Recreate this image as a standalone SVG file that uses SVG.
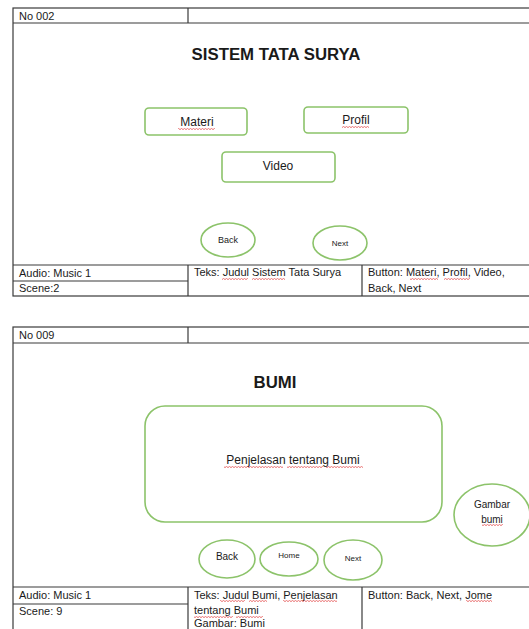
<svg xmlns="http://www.w3.org/2000/svg" width="529" height="629" viewBox="0 0 529 629">
<defs>
<style>
.frame{fill:none;stroke:#3a3a3a;stroke-width:1.2}
.btn{fill:#fff;stroke:#8cc36a;stroke-width:1.6}
.t{font-family:"Liberation Sans",Arial,sans-serif;fill:#1a1a1a}
.s11{font-size:11px}
.s12{font-size:12px}
.s10{font-size:10px}
.s9{font-size:9px}
.s8{font-size:8px}
.title{font-size:16.8px;font-weight:bold;text-anchor:middle}
.c{text-anchor:middle}
</style>
<pattern id="sq" width="3" height="2" patternUnits="userSpaceOnUse">
<path d="M0,1.6 L1.5,0.4 L3,1.6" stroke="#e03030" stroke-width="0.7" fill="none"/>
</pattern>
</defs>
<rect x="0" y="0" width="529" height="629" fill="#fff"/>

<g id="page1">
<g id="p1-table">
<rect class="frame" x="13" y="8" width="530" height="288"/>
<line class="frame" x1="13" y1="23" x2="529" y2="23"/>
<line class="frame" x1="188" y1="8" x2="188" y2="23"/>
<line class="frame" x1="13" y1="265" x2="529" y2="265"/>
<line class="frame" x1="13" y1="281" x2="188" y2="281"/>
<line class="frame" x1="188" y1="265" x2="188" y2="296"/>
<line class="frame" x1="362" y1="265" x2="362" y2="296"/>
<text class="t s11" x="19" y="20">No 002</text>
<text class="t s11" x="19" y="277">Audio: Music 1</text>
<text class="t s11" x="19" y="292">Scene:2</text>
<text class="t s11" x="194" y="276">Teks: Judul Sistem Tata Surya</text>
<text class="t s11" x="368" y="276">Button: Materi, Profil, Video,</text>
<text class="t s11" x="368" y="292">Back, Next</text>
</g>
<text class="t title" x="276" y="60">SISTEM TATA SURYA</text>
<g id="p1-materi">
<rect class="btn" x="145" y="108" width="102" height="27" rx="4"/>
<text class="t s12 c" x="197" y="126">Materi</text>
</g>
<g id="p1-profil">
<rect class="btn" x="304" y="107" width="104" height="26" rx="4"/>
<text class="t s12 c" x="356" y="124">Profil</text>
</g>
<g id="p1-video">
<rect class="btn" x="222" y="152" width="113" height="30" rx="4"/>
<text class="t s12 c" x="278" y="170">Video</text>
</g>
<g id="p1-back">
<ellipse class="btn" cx="228" cy="240" rx="27" ry="17"/>
<text class="t s9 c" x="228" y="243">Back</text>
</g>
<g id="p1-next">
<ellipse class="btn" cx="340" cy="243" rx="27" ry="17"/>
<text class="t s8 c" x="340" y="246">Next</text>
</g>
</g>

<g id="page2">
<g id="p2-table">
<rect class="frame" x="13" y="327" width="530" height="320"/>
<line class="frame" x1="13" y1="343" x2="529" y2="343"/>
<line class="frame" x1="188" y1="327" x2="188" y2="343"/>
<line class="frame" x1="13" y1="587" x2="529" y2="587"/>
<line class="frame" x1="13" y1="604" x2="188" y2="604"/>
<line class="frame" x1="188" y1="587" x2="188" y2="629"/>
<line class="frame" x1="362" y1="587" x2="362" y2="629"/>
<text class="t s11" x="19" y="339">No 009</text>
<text class="t s11" x="19" y="599">Audio: Music 1</text>
<text class="t s11" x="19" y="615">Scene: 9</text>
<text class="t s11" x="194" y="599">Teks: Judul Bumi, Penjelasan</text>
<text class="t s11" x="194" y="614">tentang Bumi</text>
<text class="t s11" x="194" y="627">Gambar: Bumi</text>
<text class="t s11" x="368" y="599">Button: Back, Next, Jome</text>
</g>
<text class="t title" x="275" y="388">BUMI</text>
<g id="p2-penjelasan">
<rect class="btn" x="145" y="406" width="297" height="116" rx="20"/>
<text class="t s12 c" x="293" y="464">Penjelasan tentang Bumi</text>
</g>
<g id="p2-gambar">
<ellipse class="btn" cx="492" cy="515" rx="38" ry="31"/>
<text class="t s10 c" x="492" y="508">Gambar</text>
<text class="t s10 c" x="492" y="523">bumi</text>
</g>
<g id="p2-back">
<ellipse class="btn" cx="227" cy="559" rx="28" ry="19"/>
<text class="t s10 c" x="227" y="560">Back</text>
</g>
<g id="p2-home">
<ellipse class="btn" cx="289" cy="559" rx="29" ry="17"/>
<text class="t s8 c" x="289" y="558">Home</text>
</g>
<g id="p2-next">
<ellipse class="btn" cx="353" cy="560" rx="29" ry="20"/>
<text class="t s8 c" x="353" y="561">Next</text>
</g>
</g>

<g id="spellcheck" fill="url(#sq)">
<rect x="178" y="128" width="37" height="2"/>
<rect x="342" y="126" width="27" height="2"/>
<rect x="222" y="278" width="26" height="2"/>
<rect x="252" y="278" width="33" height="2"/>
<rect x="410" y="278" width="28" height="2"/>
<rect x="444" y="278" width="26" height="2"/>
<rect x="224" y="466" width="59" height="2"/>
<rect x="287" y="466" width="36" height="2"/>
<rect x="326" y="466" width="37" height="2"/>
<rect x="482" y="524" width="21" height="2"/>
<rect x="220" y="600" width="25" height="2"/>
<rect x="249" y="600" width="18" height="2"/>
<rect x="283" y="600" width="54" height="2"/>
<rect x="194" y="616" width="39" height="2"/>
<rect x="236" y="616" width="27" height="2"/>
<rect x="466" y="600" width="26" height="2"/>
</g>
</svg>
